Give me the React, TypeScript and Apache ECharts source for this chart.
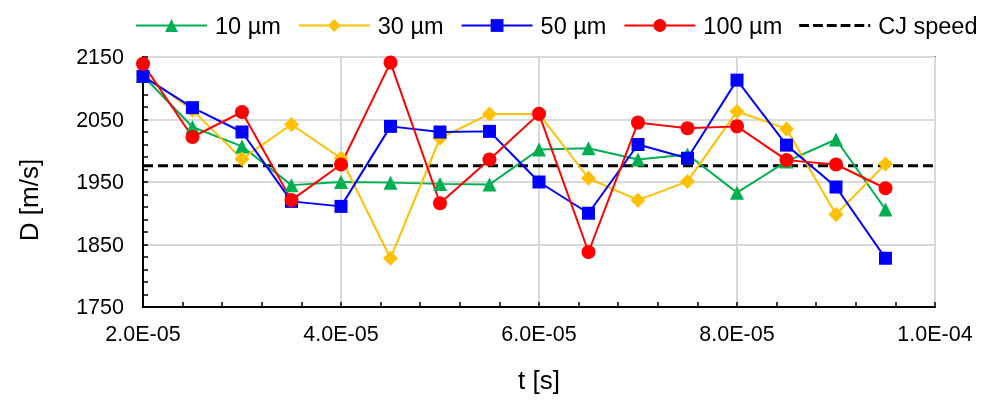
import React, { useEffect, useRef } from "react";
import * as echarts from "echarts";

const times = [2.0e-5, 2.5e-5, 3.0e-5, 3.5e-5, 4.0e-5, 4.5e-5, 5.0e-5, 5.5e-5, 6.0e-5, 6.5e-5, 7.0e-5, 7.5e-5, 8.0e-5, 8.5e-5, 9.0e-5, 9.5e-5];
const d10 = [2120, 2038, 2007, 1945, 1950, 1949, 1947, 1946, 2002, 2004, 1986, 1994, 1933, 1983, 2018, 1906];
const d30 = [2122, 2065, 1987, 2042, 1988, 1828, 2020, 2059, 2059, 1956, 1921, 1951, 2063, 2035, 1898, 1979];
const d50 = [2119, 2069, 2030, 1919, 1911, 2039, 2030, 2031, 1950, 1900, 2010, 1988, 2113, 2009, 1942, 1828];
const d100 = [2139, 2022, 2062, 1921, 1978, 2141, 1916, 1986, 2059, 1838, 2045, 2036, 2039, 1985, 1978, 1940];
const cjSpeed = 1976;
const cjRange = [2.0e-5, 1.0e-4];
const legendNames = ["10 µm", "30 µm", "50 µm", "100 µm", "CJ speed"];

const FONT = "'Liberation Sans', Arial, sans-serif";
const DASH_ICON = "path://M0,0h10v3h-10z M14,0h10v3h-10z M28,0h10v3h-10z M42,0h10v3h-10z M56,0h10v3h-10z M70,0h2v3h-2z";

const fmtX = (v: number) => {
  const e = Math.floor(Math.log10(v) + 1e-9);
  const m = v / Math.pow(10, e);
  return m.toFixed(1) + "E" + (e < 0 ? "-" : "+") + String(Math.abs(e)).padStart(2, "0");
};

const pairs = (ys: number[]) => times.map((t, i) => [t, ys[i]]);

export default function App() {
  const ref = useRef<HTMLDivElement>(null);
  useEffect(() => {
    if (!ref.current) return;
    const chart = echarts.init(ref.current, null, { renderer: "svg" });
    const mk = (name: string, data: number[], color: string, symbol: string, size: number) => ({
      name,
      type: "line",
      data: pairs(data),
      symbol,
      symbolSize: size,
      showSymbol: true,
      itemStyle: { color },
      lineStyle: { color, width: 2 },
      emphasis: { disabled: true },
    });
    chart.setOption({
      animation: false,
      legend: {
        data: legendNames.map((n) =>
          n === "CJ speed" ? { name: n, icon: DASH_ICON, itemStyle: { color: "#000" } } : { name: n }
        ),
        left: 130,
        top: 7,
        itemWidth: 71,
        itemHeight: 16,
        itemGap: 17,
        textStyle: { fontFamily: FONT, fontSize: 23.5, color: "#000", lineHeight: 27, padding: [0, 0, 0, 3] },
      },
      grid: {
        left: 143,
        right: 47,
        top: 57,
        bottom: 98,
        show: true,
        borderColor: "#000",
        borderWidth: 1.5,
        backgroundColor: "transparent",
      },
      graphic: [
        {
          type: "text",
          x: 28.5,
          y: 200,
          rotation: Math.PI / 2,
          style: {
            text: "D [m/s]",
            fontFamily: FONT,
            fontSize: 26,
            fill: "#000",
            align: "center",
            verticalAlign: "middle",
          },
        },
      ],
      xAxis: {
        type: "value",
        min: 2.0e-5,
        max: 1.0e-4,
        interval: 2.0e-5,
        name: "t [s]",
        nameLocation: "middle",
        nameGap: 60,
        nameTextStyle: { fontFamily: FONT, fontSize: 26, color: "#000" },
        axisLine: { show: true, onZero: false, lineStyle: { color: "#000", width: 2 } },
        axisTick: { show: true, inside: true, length: 5, lineStyle: { color: "#000", width: 1.5 } },
        minorTick: { show: true, splitNumber: 5, length: 5, lineStyle: { color: "#000", width: 1.5 } },
        axisLabel: { formatter: fmtX, fontFamily: FONT, fontSize: 21.5, color: "#000", margin: 16 },
        splitLine: { show: true, lineStyle: { color: "#d9d9d9", width: 2 } },
      },
      yAxis: {
        type: "value",
        min: 1750,
        max: 2150,
        interval: 100,
        axisLine: { show: true, lineStyle: { color: "#000", width: 2 } },
        axisTick: { show: true, inside: true, length: 5, lineStyle: { color: "#000", width: 1.5 } },
        minorTick: { show: true, splitNumber: 5, length: 5, lineStyle: { color: "#000", width: 1.5 } },
        axisLabel: { formatter: (v: number) => String(v), fontFamily: FONT, fontSize: 21.5, color: "#000", margin: 19 },
        splitLine: { show: true, lineStyle: { color: "#d9d9d9", width: 2 } },
      },
      series: [
        {
          name: "CJ speed",
          type: "line",
          data: cjRange.map((t) => [t, cjSpeed]),
          showSymbol: false,
          symbol: "none",
          itemStyle: { color: "#000" },
          lineStyle: { color: "#000", width: 3, type: [10, 5] },
          emphasis: { disabled: true },
        },
        mk("10 µm", d10, "#00B050", "triangle", 14),
        mk("30 µm", d30, "#FFC000", "diamond", 15),
        mk("50 µm", d50, "#0000FF", "rect", 13),
        mk("100 µm", d100, "#FF0000", "circle", 14),
      ],
    });
    return () => chart.dispose();
  }, []);
  return <div ref={ref} style={{ position: "fixed", left: 0, top: 0, width: 982, height: 405 }} />;
}
